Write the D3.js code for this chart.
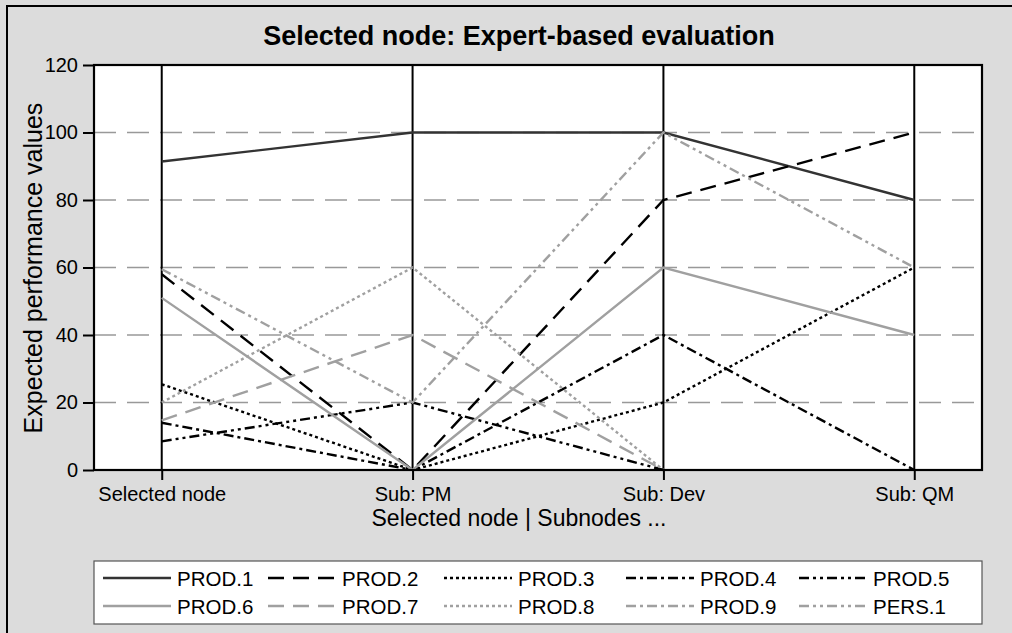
<!DOCTYPE html>
<html><head><meta charset="utf-8">
<script src="https://cdn.jsdelivr.net/npm/d3@7"></script>
<style>body{margin:0;background:#dcdcdc;overflow:hidden;} text{font-family:"Liberation Sans",Arial,sans-serif;}</style>
</head><body>
<svg id="c" width="1012" height="633" style="display:block"></svg>
<script>
const categories = ["Selected node", "Sub: PM", "Sub: Dev", "Sub: QM"];
const yTicks = [0, 20, 40, 60, 80, 100, 120];
const seriesNames = ["PROD.1","PROD.2","PROD.3","PROD.4","PROD.5","PROD.6","PROD.7","PROD.8","PROD.9","PERS.1"];
const prod1 = [91.4, 100, 100, 80];
const prod2 = [58, 0, 80, 100];
const prod3 = [25.4, 0, 20, 60];
const prod4 = [14, 0, 40, 0];
const prod5 = [8.5, 20, 0, null];
const prod6 = [51, 0, 60, 40];
const prod7 = [14.7, 40, 0, null];
const prod8 = [20, 60, 0, null];
const prod9 = [null, null, null, null];
const pers1 = [59.5, 20, 100, 60];
const seriesValues = [prod1, prod2, prod3, prod4, prod5, prod6, prod7, prod8, prod9, pers1];
const colors = ["#333333","#000000","#000000","#000000","#000000","#a0a0a0","#a0a0a0","#a0a0a0","#a0a0a0","#a0a0a0"];
const dashes = [null,"16,9","3,3","10,4,3,4","10,4,3,4,3,4",null,"16,9","3,3","10,4,3,4","10,4,3,4,3,4"];

const svg = d3.select("#c");
const L = 94, R = 982, T = 65, B = 470;
const x = d3.scaleLinear().domain([0.73, 4.27]).range([L, R]);
const y = d3.scaleLinear().domain([0, 120]).range([B, T]);

// outer frame
svg.append("rect").attr("x", 7).attr("y", 6).attr("width", 1030).attr("height", 650)
  .attr("fill", "#dcdcdc").attr("stroke", "#000").attr("stroke-width", 2);

// plot area
svg.append("rect").attr("x", L).attr("y", T).attr("width", R - L).attr("height", B - T).attr("fill", "#fff");

// gridlines
svg.append("g").selectAll("line").data(yTicks.filter(d => d > 0 && d < 120)).join("line")
  .attr("x1", L).attr("x2", R).attr("y1", d => y(d)).attr("y2", d => y(d))
  .attr("stroke", "#999").attr("stroke-width", 1.3).attr("stroke-dasharray", "22,11");

// vertical category lines
svg.append("g").selectAll("line").data(categories).join("line")
  .attr("x1", (d, i) => x(i + 1)).attr("x2", (d, i) => x(i + 1))
  .attr("y1", T).attr("y2", B)
  .attr("stroke", "#000").attr("stroke-width", 2);

// data lines
const line = d3.line().defined(d => d[1] != null).x(d => x(d[0])).y(d => y(d[1]));
seriesValues.forEach((vals, i) => {
  const pts = vals.map((v, j) => [j + 1, v]);
  svg.append("path").attr("d", line(pts)).attr("fill", "none")
    .attr("stroke", colors[i]).attr("stroke-width", 2.4)
    .attr("stroke-dasharray", dashes[i]);
});

// frame
svg.append("rect").attr("x", L).attr("y", T).attr("width", R - L).attr("height", B - T)
  .attr("fill", "none").attr("stroke", "#000").attr("stroke-width", 2.2);

// y axis
const yAxis = svg.append("g").attr("transform", `translate(${L},0)`)
  .call(d3.axisLeft(y).tickValues(yTicks).tickSize(11).tickSizeOuter(0));
yAxis.select(".domain").remove();
yAxis.selectAll(".tick line").attr("stroke", "#000").attr("stroke-width", 2);
yAxis.selectAll(".tick text").attr("font-size", 20).attr("fill", "#000").attr("x", -16)
  .attr("font-family", "Liberation Sans, Arial, sans-serif");

// x axis
const xAxis = svg.append("g").attr("transform", `translate(0,${B})`)
  .call(d3.axisBottom(x).tickValues([1, 2, 3, 4]).tickFormat((d) => categories[d - 1]).tickSize(10).tickSizeOuter(0));
xAxis.select(".domain").remove();
xAxis.selectAll(".tick line").attr("stroke", "#000").attr("stroke-width", 2);
xAxis.selectAll(".tick text").attr("font-size", 20).attr("fill", "#000").attr("y", 17).attr("dy", "0.71em")
  .attr("font-family", "Liberation Sans, Arial, sans-serif");

// titles
svg.append("text").attr("x", 519).attr("y", 45).attr("text-anchor", "middle")
  .attr("font-size", 27).attr("font-weight", "bold").text("Selected node: Expert-based evaluation");
svg.append("text").attr("x", 519).attr("y", 526).attr("text-anchor", "middle")
  .attr("font-size", 23).text("Selected node | Subnodes ...");
svg.append("text").attr("transform", "translate(42,268) rotate(-90)").attr("text-anchor", "middle")
  .attr("font-size", 25).text("Expected performance values");

// legend
svg.append("rect").attr("x", L).attr("y", 561).attr("width", R - L).attr("height", 63)
  .attr("fill", "#fff").attr("stroke", "#555").attr("stroke-width", 1.2);
const textStarts = [177, 342, 518, 700, 873];
const rowY = [578, 606];
seriesNames.forEach((name, i) => {
  const col = i % 5, row = Math.floor(i / 5);
  const tx = textStarts[col], ly = rowY[row];
  svg.append("line").attr("x1", tx - 74).attr("x2", tx - 6).attr("y1", ly).attr("y2", ly)
    .attr("stroke", colors[i]).attr("stroke-width", 2.4).attr("stroke-dasharray", dashes[i]);
  svg.append("text").attr("x", tx).attr("y", ly + 7.5).attr("font-size", 20.5).text(name);
});
</script>
</body></html>
